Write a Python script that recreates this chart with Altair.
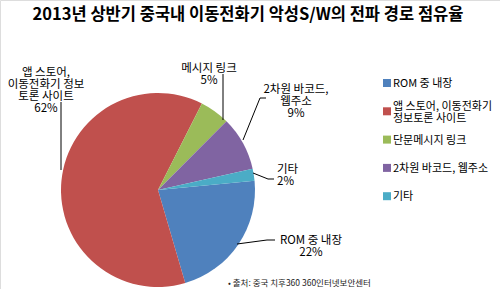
import math
import altair as alt
import pandas as pd

# ---- data ----
categories = ["ROM 중 내장", "앱 스토어, 이동전화기 정보토론 사이트", "단문메시지 링크", "2차원 바코드, 웹주소", "기타"]
values = [22, 62, 5, 9, 2]
colors = ["#4F81BD", "#C0504D", "#9BBB59", "#8064A2", "#4BACC6"]
legend_lines = [["ROM 중 내장"], ["앱 스토어, 이동전화기", "정보토론 사이트"], ["단문메시지 링크"], ["2차원 바코드, 웹주소"], ["기타"]]
slice_labels = [["ROM 중 내장", "22%"], ["앱 스토어,", "이동전화기 정보", "토론 사이트", "62%"],
                ["메시지 링크", "5%"], ["2차원 바코드,", "웹주소", "9%"], ["기타", "2%"]]
title_text = "2013년 상반기 중국내 이동전화기 악성S/W의 전파 경로 점유율"
source_text = "• 출처: 중국 치후360 360인터넷보안센터"

# ---- layout (styling) ----
W, H = 500, 289
CX, CY, R = 158, 190, 97
START = math.radians(84.5)
FONT = "Noto Sans CJK KR"
LINE_H = 12

# label anchor (x, first-line baseline y, align) per slice
label_pos = [(311, 243.6, "center"), (46, 75.6, "center"), (209, 71.6, "center"),
             (296, 92.6, "center"), (277, 172.6, "left")]
# leader lines
leaders = [
    [(237, 244), (267, 240), (275, 240)],
    [(61, 102), (61, 170)],
    [(223, 74), (223, 120)],
    [(243, 140), (260, 98), (266, 98)],
    [(253, 173), (268, 179), (274, 179)],
]

pie_df = pd.DataFrame({"cat": categories, "value": values, "idx": range(len(values))})

X = lambda f: alt.X(f, type="quantitative", scale=None, axis=None)
Y = lambda f: alt.Y(f, type="quantitative", scale=None, axis=None)

pie = alt.Chart(pie_df).mark_arc(outerRadius=R).encode(
    x=alt.value(CX), y=alt.value(CY),
    theta=alt.Theta("value:Q", stack=True, scale=alt.Scale(range=[START, START + 2 * math.pi])),
    color=alt.Color("cat:N", scale=alt.Scale(domain=categories, range=colors), legend=None),
    order=alt.Order("idx:Q"),
)

label_layers = []
for al in ["center", "left"]:
    rows = [{"x": p[0], "y": p[1], "t": slice_labels[i]} for i, p in enumerate(label_pos) if p[2] == al]
    label_layers.append(alt.Chart(pd.DataFrame(rows)).mark_text(
        align=al, baseline="alphabetic", font=FONT, fontSize=11.5, lineHeight=LINE_H, color="#000"
    ).encode(x=X("x"), y=Y("y"), text="t"))

lead_rows = []
for i, pts in enumerate(leaders):
    for k, (x, y) in enumerate(pts):
        lead_rows.append({"g": i, "k": k, "x": x, "y": y})
lead = alt.Chart(pd.DataFrame(lead_rows)).mark_line(color="#000", strokeWidth=1).encode(
    x=X("x"), y=Y("y"), detail="g:N", order="k:Q"
)

# custom legend
LX, LY0, LDY = 387, 83, 28.3
sq_rows, lt_rows = [], []
for i, lines in enumerate(legend_lines):
    yc = LY0 + i * LDY
    sq_rows.append({"x": LX, "y": yc, "cat": categories[i]})
    n = len(lines)
    lt_rows.append({"x": LX + 6, "y": yc - (n - 1) / 2 * LINE_H + 4.2, "t": lines})
leg_sq = alt.Chart(pd.DataFrame(sq_rows)).mark_square(size=64, opacity=1).encode(
    x=X("x"), y=Y("y"),
    color=alt.Color("cat:N", scale=alt.Scale(domain=categories, range=colors), legend=None),
)
leg_txt = alt.Chart(pd.DataFrame(lt_rows)).mark_text(
    align="left", baseline="alphabetic", font=FONT, fontSize=11, lineHeight=LINE_H, color="#000"
).encode(x=X("x"), y=Y("y"), text="t")

title = alt.Chart(pd.DataFrame({"t": [title_text]})).mark_text(
    align="center", baseline="middle", font=FONT, fontSize=16.5, fontWeight="bold", color="#000"
).encode(x=alt.value(248), y=alt.value(15), text="t:N")

source = alt.Chart(pd.DataFrame({"t": [source_text]})).mark_text(
    align="left", baseline="middle", font=FONT, fontSize=8.5, color="#222"
).encode(x=alt.value(228), y=alt.value(283), text="t:N")

chart = alt.layer(pie, lead, *label_layers, leg_sq, leg_txt, title, source).properties(
    width=W, height=H, padding=0, autosize=alt.AutoSizeParams(type="none")
).configure_view(stroke=None).configure(background="white")

chart.save("out.html", embed_options={"renderer": "svg", "actions": False})
